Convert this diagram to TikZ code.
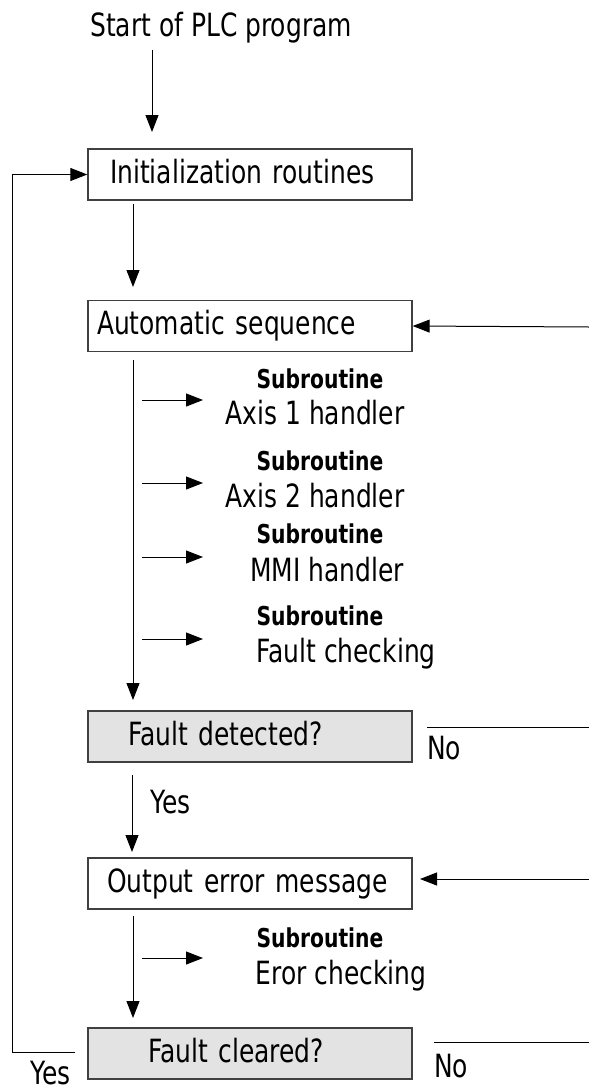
\documentclass[tikz,border=0pt]{standalone}
\usepackage{fontspec}
\setmainfont{DejaVu Sans}[FakeStretch=0.78]
\usetikzlibrary{positioning,calc,arrows.meta}
\definecolor{boxline}{HTML}{404040}
\definecolor{boxfill}{HTML}{E3E3E3}
\tikzset{
  txt/.style={font=\fontsize{32}{36}\selectfont, inner sep=0pt},
  subtxt/.style={font=\fontsize{26}{28}\selectfont\bfseries, inner sep=0pt},
  stepbox/.style={
    draw=boxline, line width=1.4pt,
    font=\fontsize{32}{36}\selectfont,
    text width=312pt, inner xsep=6pt, inner ysep=0pt,
    minimum height=51pt, align=left,
    text height=23pt, text depth=6pt
  },
  askbox/.style={stepbox, fill=boxfill},
  flow/.style={line width=1pt, -{Triangle[length=17pt,width=13pt]}},
  plain/.style={line width=1pt}
}
\begin{document}
\begin{tikzpicture}[x=1pt,y=-1pt]
    \useasboundingbox (0,0) rectangle (589,1090);
    % main boxes
    \node [txt, anchor=base west] (start) at (90,36) {Start of PLC program};
    \node [stepbox] (init) at (250,174.5) {\hspace*{16pt}Initialization routines};
    \node [stepbox] (auto) at (250,326) {\hspace*{3pt}Automatic sequence};
    \node [askbox] (detect) at (250,736.5) {\hspace*{34pt}Fault detected?};
    \node [stepbox] (output) at (250,883.5) {\hspace*{13pt}Output error message};
    \node [askbox] (clear) at (250,1053.5) {\hspace*{54pt}Fault cleared?};

    % subroutine calls
    \node [subtxt, anchor=base] (sub1) at (320,388) {Subroutine};
    \node [txt, anchor=base] (axis1) at (315,424) {Axis 1 handler};
    \node [subtxt, anchor=base] (sub2) at (320,470) {Subroutine};
    \node [txt, anchor=base] (axis2) at (315,507) {Axis 2 handler};
    \node [subtxt, anchor=base] (sub3) at (320,543) {Subroutine};
    \node [txt, anchor=base] (mmi) at (327,581) {MMI handler};
    \node [subtxt, anchor=base] (sub4) at (320,625) {Subroutine};
    \node [txt, anchor=base] (fault) at (346,662) {Fault checking};
    \node [subtxt, anchor=base] (sub5) at (320,947) {Subroutine};
    \node [txt, anchor=base] (eror) at (341,984) {Eror checking};

    % labels
    \node [txt, anchor=base west] (no1) at (427,759) {No};
    \node [txt, anchor=base west] (yes1) at (150,813) {Yes};
    \node [txt, anchor=base west] (no2) at (434,1077) {No};
    \node [txt, anchor=base west] (yes2) at (30,1084) {Yes};

    % free ends
    \coordinate (r1) at (589,327);
    \coordinate (r2) at (589,879);
    \coordinate (n1) at (589,727);
    \coordinate (n2) at (589,1042);
    \coordinate (loop) at (12,1052);

    % main flow
    \draw [flow] (152,50) -- (152,132);
    \draw [flow] (133,204) -- (133,287);
    \draw [flow] (133,360) -- (133,700);
    \draw [flow] (132,775) -- (132,852);
    \draw [flow] (133,916) -- (133,1018);
    \foreach \y in {400,483,557,639,958}
    {
        \draw [flow] (142,\y) -- (203,\y);
    }
    \draw [flow] (r1) -- (auto.east);
    \draw [flow] (r2) -- (420,879);
    \draw [plain] (427,727) -- (n1);
    \draw [plain] (434,1042) -- (n2);
    \draw [flow] (75,1052) -- (loop) |- (init.west);
\end{tikzpicture}
\end{document}
